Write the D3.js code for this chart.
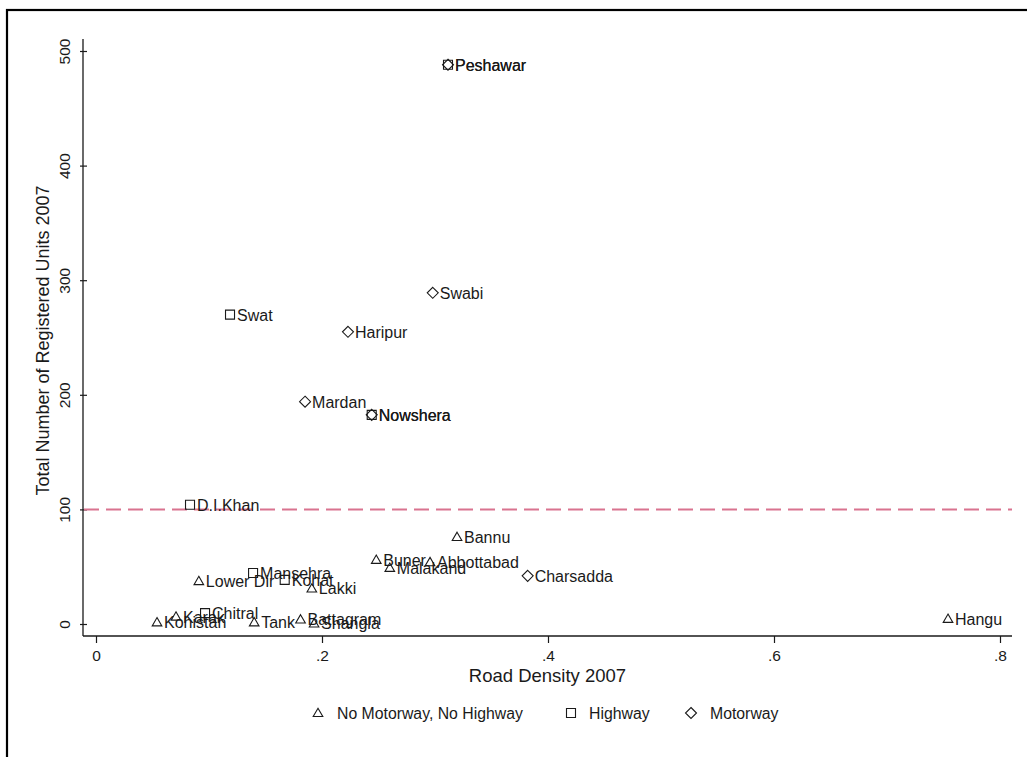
<!DOCTYPE html>
<html>
<head>
<meta charset="utf-8">
<script src="https://cdn.jsdelivr.net/npm/d3@7"></script>
<style>
  html, body { margin: 0; padding: 0; background: #fff; }
  svg { display: block; font-family: "Liberation Sans", Arial, sans-serif; }
</style>
</head>
<body>
<svg id="chart" width="1027" height="757"></svg>
<script>
// Districts by road access: [name, road density 2007, registered units 2007]
const noMotorwayNoHighway = [
  ["Bannu", 0.3195, 76],
  ["Buner", 0.248, 56],
  ["Abbottabad", 0.2956, 54],
  ["Malakand", 0.260, 49],
  ["Lower Dir", 0.091, 37.5],
  ["Lakki", 0.191, 31],
  ["Karak", 0.0708, 6.5],
  ["Kohistan", 0.054, 1.5],
  ["Tank", 0.140, 1.5],
  ["Battagram", 0.181, 4],
  ["Shangla", 0.193, 0.5],
  ["Hangu", 0.754, 4.5]
];
const highway = [
  ["Peshawar", 0.3115, 488],
  ["Swat", 0.1186, 270],
  ["Nowshera", 0.244, 182.5],
  ["D.I.Khan", 0.0832, 104],
  ["Mansehra", 0.139, 44.5],
  ["Kohat", 0.167, 38.5],
  ["Chitral", 0.0965, 9.5]
];
const motorway = [
  ["Peshawar", 0.3115, 488],
  ["Swabi", 0.298, 289],
  ["Haripur", 0.223, 255],
  ["Mardan", 0.185, 194],
  ["Nowshera", 0.244, 182.5],
  ["Charsadda", 0.382, 42]
];
const xTicks = [0, 0.2, 0.4, 0.6, 0.8];
const xTickLabels = ["0", ".2", ".4", ".6", ".8"];
const yTicks = [0, 100, 200, 300, 400, 500];
const referenceLine = 100;
const legendLabels = ["No Motorway, No Highway", "Highway", "Motorway"];

const svg = d3.select("#chart");
const ink = "#1a1a1a";
const font = "Liberation Sans, Arial, sans-serif";

// Outer frame (top and left edges visible)
svg.append("rect").attr("x", 7).attr("y", 10).attr("width", 1100).attr("height", 900)
  .attr("fill", "#fff").attr("stroke", "#000").attr("stroke-width", 2.2);

const x = d3.scaleLinear().domain([0, 0.8]).range([96, 1000]);
const y = d3.scaleLinear().domain([0, 500]).range([624, 51]);
const plotLeft = 83, plotRight = 1012, plotTop = 39, plotBottom = 636;

// Axis lines
svg.append("line").attr("x1", plotLeft).attr("x2", plotLeft).attr("y1", plotTop).attr("y2", plotBottom)
  .attr("stroke", ink).attr("stroke-width", 1.3);
svg.append("line").attr("x1", plotLeft).attr("x2", plotRight).attr("y1", plotBottom).attr("y2", plotBottom)
  .attr("stroke", ink).attr("stroke-width", 1.3);

// X axis
const xAxis = svg.append("g").attr("transform", `translate(0,${plotBottom})`)
  .call(d3.axisBottom(x).tickValues(xTicks).tickSize(7).tickPadding(7)
    .tickFormat((d, i) => xTickLabels[i]));
xAxis.select(".domain").remove();
xAxis.selectAll("line").attr("stroke", ink).attr("stroke-width", 1.2);
xAxis.selectAll("text").attr("font-size", 15.5).attr("fill", ink).attr("font-family", font);

// Y axis (rotated tick labels, ticks straddling the axis line)
const yAxis = svg.append("g").attr("transform", `translate(${plotLeft},0)`)
  .call(d3.axisLeft(y).tickValues(yTicks).tickSize(3).tickPadding(0));
yAxis.select(".domain").remove();
yAxis.selectAll("line").attr("x2", -3).attr("x1", 4).attr("stroke", ink).attr("stroke-width", 1.2);
yAxis.selectAll("text").attr("font-size", 15.5).attr("fill", ink).attr("font-family", font)
  .attr("transform", "translate(-13,0) rotate(-90)")
  .attr("x", 0).attr("dy", 0).attr("text-anchor", "middle");

// Axis titles
svg.append("text").attr("x", (plotLeft + plotRight) / 2).attr("y", 682)
  .attr("text-anchor", "middle").attr("font-size", 18.5).attr("fill", ink)
  .text("Road Density 2007");
svg.append("text").attr("transform", `translate(49,${(plotTop + plotBottom) / 2 + 3}) rotate(-90)`)
  .attr("text-anchor", "middle").attr("font-size", 18).attr("fill", ink)
  .text("Total Number of Registered Units 2007");

// Reference line at 100 units
svg.append("line").attr("x1", plotLeft + 1).attr("x2", plotRight)
  .attr("y1", y(referenceLine)).attr("y2", y(referenceLine))
  .attr("stroke", "#d9738f").attr("stroke-width", 2).attr("stroke-dasharray", "15,7");

// Marker shapes
const triPath = d3.symbol().type(d3.symbolTriangle).size(40)();
const sqPath = "M-4.5,-4.5H4.5V4.5H-4.5Z";
const diaPath = "M0,-5.5L5.5,0L0,5.5L-5.5,0Z";
const series = [
  { data: noMotorwayNoHighway, path: triPath, dy: 0.8 },
  { data: highway, path: sqPath, dy: 0 },
  { data: motorway, path: diaPath, dy: 0 }
];

series.forEach(s => {
  const g = svg.append("g");
  const pts = g.selectAll("g.pt").data(s.data).join("g")
    .attr("transform", d => `translate(${x(d[1])},${y(d[2])})`);
  pts.append("path").attr("d", s.path).attr("transform", `translate(0,${s.dy})`)
    .attr("fill", "none").attr("stroke", ink).attr("stroke-width", 1.1);
  pts.append("text").attr("x", 7).attr("y", 6).attr("font-size", 16).attr("fill", ink)
    .text(d => d[0]);
});

// Legend
const legendY = 713;
const legendItems = [
  { path: triPath, mx: 318, tx: 337, dy: 0.8 },
  { path: sqPath, mx: 571, tx: 589, dy: 0 },
  { path: diaPath, mx: 691, tx: 710, dy: 0 }
];
legendItems.forEach((it, i) => {
  svg.append("path").attr("d", it.path)
    .attr("transform", `translate(${it.mx},${legendY + it.dy})`)
    .attr("fill", "none").attr("stroke", ink).attr("stroke-width", 1.1);
  svg.append("text").attr("x", it.tx).attr("y", legendY + 5.5).attr("font-size", 15.8)
    .attr("fill", ink).text(legendLabels[i]);
});
</script>
</body>
</html>
